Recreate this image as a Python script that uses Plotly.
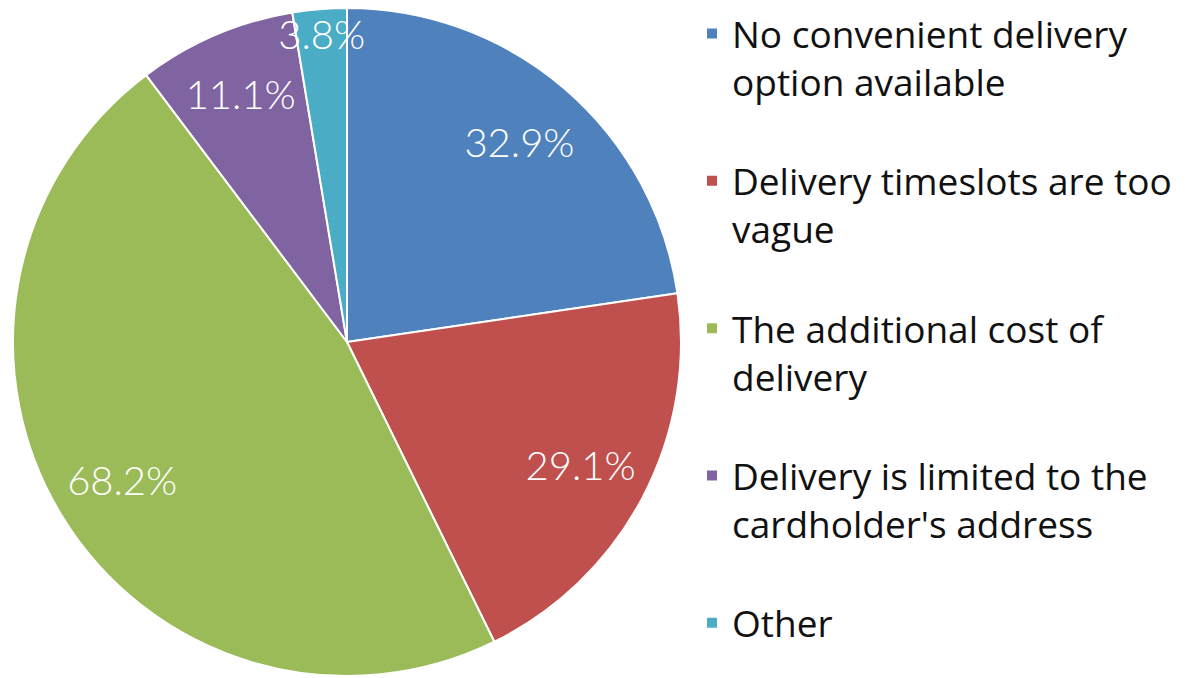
import plotly.graph_objects as go

categories = [
    "No convenient delivery<br>option available<br> ",
    "Delivery timeslots are too<br>vague<br> ",
    "The additional cost of<br>delivery<br> ",
    "Delivery is limited to the<br>cardholder's address<br> ",
    "Other",
]
values = [32.9, 29.1, 68.2, 11.1, 3.8]
colors = ["#4F81BD", "#C0504D", "#9BBB59", "#8064A2", "#4BACC6"]

W, H = 1186, 678
pie_domain = dict(x=[5 / W, 673 / W], y=[10 / H, 1])

# coloured slices
fig = go.Figure(
    go.Pie(
        labels=categories,
        values=values,
        sort=False,
        direction="clockwise",
        rotation=0,
        marker=dict(colors=colors, line=dict(color="white", width=2)),
        textinfo="none",
        domain=pie_domain,
        hoverinfo="label+value",
    )
)

# value labels (same data, transparent ring so labels sit near the rim)
fig.add_trace(
    go.Pie(
        labels=categories,
        values=values,
        sort=False,
        direction="clockwise",
        rotation=0,
        hole=0.58,
        marker=dict(colors=["rgba(0,0,0,0)"] * len(values), line=dict(width=0)),
        texttemplate="%{value:.1f}%",
        textposition="inside",
        insidetextorientation="horizontal",
        textfont=dict(family="Lato", size=40, color="white", weight=300),
        domain=pie_domain,
        showlegend=False,
        hoverinfo="skip",
    )
)

fig.update_layout(
    width=W,
    height=H,
    margin=dict(l=0, r=0, t=0, b=0, autoexpand=False),
    paper_bgcolor="white",
    plot_bgcolor="white",
    uniformtext=dict(minsize=40, mode="show"),
    legend=dict(
        x=684 / W,
        xanchor="left",
        y=1 + 5 / H,
        yanchor="top",
        valign="top",
        maxheight=H,
        font=dict(family="Open Sans", size=37, color="#111111"),
        bgcolor="rgba(0,0,0,0)",
        tracegroupgap=0,
    ),
)

fig.write_html("out.html")
